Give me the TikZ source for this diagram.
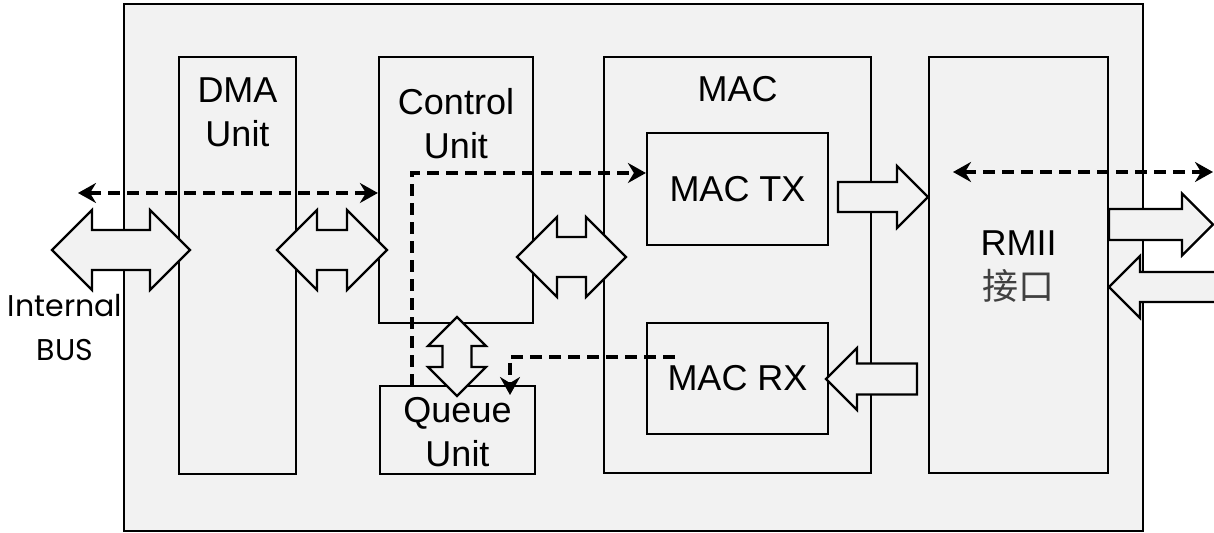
\documentclass[tikz,border=0pt]{standalone}
\usepackage{fontspec}
\setmainfont{Liberation Sans}
\newfontfamily\cjk{Noto Sans CJK SC}
\newfontfamily\busfont{Poppins}
\usetikzlibrary{arrows.meta, positioning, fit}
\definecolor{panelgray}{HTML}{F2F2F2}

% block arrows, all with 90 degree heads (h = half head width = head length)
\newcommand{\hdbl}[5]{% xleft, xright, y, shaft half, head half
  \filldraw[blockarr] (#1,#3) -- ({#1+#5},{#3-#5}) -- ({#1+#5},{#3-#4})
    -- ({#2-#5},{#3-#4}) -- ({#2-#5},{#3-#5}) -- (#2,#3) -- ({#2-#5},{#3+#5})
    -- ({#2-#5},{#3+#4}) -- ({#1+#5},{#3+#4}) -- ({#1+#5},{#3+#5}) -- cycle;}
\newcommand{\vdbl}[5]{% x, ytop, ybottom, shaft half, head half
  \filldraw[blockarr] (#1,#2) -- ({#1+#5},{#2+#5}) -- ({#1+#4},{#2+#5})
    -- ({#1+#4},{#3-#5}) -- ({#1+#5},{#3-#5}) -- (#1,#3) -- ({#1-#5},{#3-#5})
    -- ({#1-#4},{#3-#5}) -- ({#1-#4},{#2+#5}) -- ({#1-#5},{#2+#5}) -- cycle;}
\newcommand{\rsgl}[5]{% xtail, xtip, y, shaft half, head half
  \filldraw[blockarr] (#1,{#3-#4}) -- ({#2-#5},{#3-#4}) -- ({#2-#5},{#3-#5})
    -- (#2,#3) -- ({#2-#5},{#3+#5}) -- ({#2-#5},{#3+#4}) -- (#1,{#3+#4}) -- cycle;}
\newcommand{\lsgl}[5]{% xtip, xtail, y, shaft half, head half
  \filldraw[blockarr] (#2,{#3-#4}) -- ({#1+#5},{#3-#4}) -- ({#1+#5},{#3-#5})
    -- (#1,#3) -- ({#1+#5},{#3+#5}) -- ({#1+#5},{#3+#4}) -- (#2,{#3+#4}) -- cycle;}

\tikzset{
  unitbox/.style={draw, line width=1.1pt, fill=panelgray, inner sep=0pt},
  lbl/.style={font=\fontsize{18}{22}\selectfont, align=center, inner sep=0pt},
  buslbl/.style={font=\busfont\fontsize{15}{22}\selectfont, align=center, inner sep=0pt},
  blockarr/.style={draw, line width=1.1pt, fill=panelgray, line join=miter},
  dlink/.style={line width=1.6pt, dash pattern=on 6pt off 3.5pt},
  oneway/.style={-{Stealth[length=9pt,width=10pt,inset=3pt]}},
  twoway/.style={{Stealth[length=9pt,width=10pt,inset=3pt]}-{Stealth[length=9pt,width=10pt,inset=3pt]}}
}

\begin{document}
\begin{tikzpicture}[x=0.5pt, y=-0.5pt]
  \fill[white] (0,0) rectangle (1214,533);
  \useasboundingbox (0,0) rectangle (1214,533);
  % chip outline
  \draw[line width=1.4pt, fill=panelgray] (124,4) rectangle (1143,531);
  % units
  \node[unitbox, fit={(179,57) (296,474)}] (dma) {};
  \node[unitbox, fit={(379,57) (533,323)}] (ctrl) {};
  \node[unitbox, fit={(380,386) (535,474)}] (queue) {};
  \node[unitbox, fit={(604,57) (871,473)}] (mac) {};
  \node[unitbox, fit={(647,133) (828,245)}] (tx) {};
  \node[unitbox, fit={(647,323) (828,434)}] (rx) {};
  \node[unitbox, fit={(929,57) (1108,473)}] (rmii) {};
  % data paths
  \hdbl{52}{190}{250}{20}{40}
  \hdbl{277}{387}{250}{20}{40}
  \hdbl{517}{626}{257}{20}{40}
  \vdbl{457}{317}{396}{14.5}{29}
  \rsgl{838}{928}{197}{15}{31}
  \lsgl{826}{917}{379}{15.5}{31}
  \rsgl{1109}{1213}{224.5}{15.5}{31}
  \lsgl{1109}{1222}{287}{15}{31}
  % labels
  \node[lbl, below=10.5pt of dma.north] (dmaT) {DMA\\Unit};
  \node[lbl, below=16pt of ctrl.north] (ctrlT) {Control\\Unit};
  \node[lbl, below=10pt of mac.north] (macT) {MAC};
  \node[lbl] (txT) at (tx.center) {MAC TX};
  \node[lbl] (rxT) at (rx.center) {MAC RX};
  \node[lbl] (queueT) at ([yshift=-1pt]queue.center) {Queue\\Unit};
  \node[lbl] (rmiiT) at ([yshift=-1pt]rmii.center) {RMII\\{\cjk\color{black!75}接口}};
  \node[buslbl] (busT) at (65,327.5) {Internal\\BUS};
  % control paths
  \coordinate (busL) at (78,193);
  \coordinate (qtop) at (412,386);
  \coordinate (rxtap) at (675,357);
  \coordinate (qin) at (510,395);
  \coordinate (rmL) at (953,172);
  \coordinate (rmR) at (1213,172);
  \draw[dlink, twoway] (busL) -- (busL -| ctrl.west);
  \draw[dlink, oneway] (qtop) |- ([yshift=8pt]tx.west);
  \draw[dlink, oneway] (rxtap) -| (qin);
  \draw[dlink, twoway] (rmL) -- (rmR);
\end{tikzpicture}
\end{document}
